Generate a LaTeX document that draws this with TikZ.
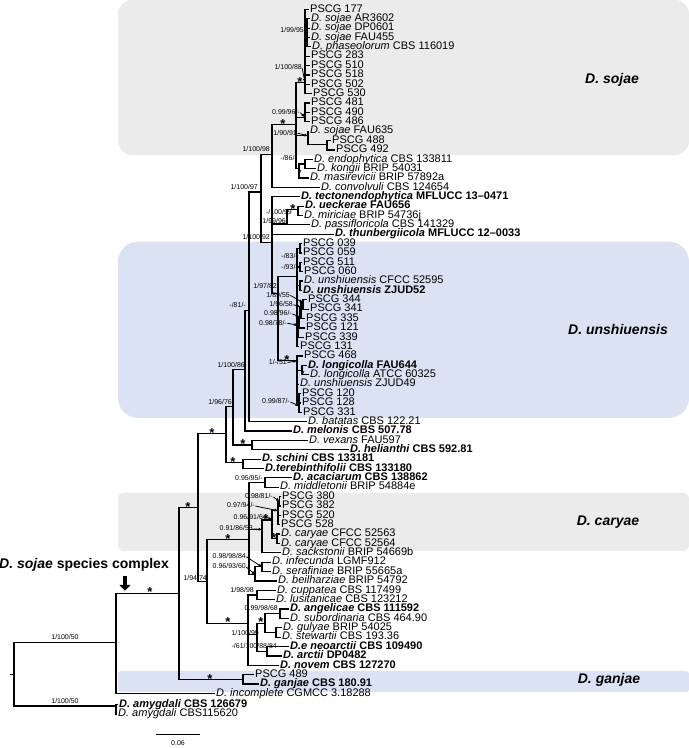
\documentclass[tikz,border=0pt]{standalone}
\usepackage{fontspec}
\setmainfont{Liberation Sans}
\usetikzlibrary{arrows.meta}
\definecolor{grybox}{RGB}{235,235,235}
\definecolor{blubox}{RGB}{218,226,243}
\tikzset{
  br/.style={line width=1.2pt},
  leaf/.style={anchor=west, inner xsep=1.5pt, inner ysep=0pt, text height=7pt, text depth=1.5pt, font=\fontsize{11}{11}\selectfont},
  bleaf/.style={leaf, font=\fontsize{11}{11}\selectfont\bfseries},
  bs/.style={anchor=east, inner sep=0pt, text height=4.6pt, text depth=0.6pt, font=\fontsize{7}{7}\selectfont},
  ptr/.style={-{Latex[length=3.5pt,width=3.2pt]}, line width=0.8pt, shorten <=0.5pt},
  ast/.style={anchor=south, inner sep=0pt, yshift=-4pt, font=\fontsize{13}{13}\selectfont\bfseries},
  clade/.style={font=\fontsize{14}{14}\selectfont\bfseries\itshape}
}
\begin{document}
\begin{tikzpicture}[x=1pt, y=-9.37pt]
    \useasboundingbox (0,0) rectangle (689,79.83);
    % clade boxes
    \fill[grybox, rounded corners=14pt] (118,0) rectangle (689,16.55);
    \fill[blubox, rounded corners=20pt] (118,25.8) rectangle (689,44.6);
    \fill[grybox, rounded corners=6pt] (118,52.6) rectangle (689,58.8);
    \fill[blubox, rounded corners=3pt] (118,71.6) rectangle (689,73.85);
    \node[clade] (csoj) at (612,8.5) {D. sojae};
    \node[clade] (cuns) at (618,35.2) {D. unshiuensis};
    \node[clade] (ccar) at (608,55.7) {D. caryae};
    \node[clade] (cgan) at (609,72.6) {D. ganjae};

    % leaves
    \node[leaf] (l1) at (308.5,1) {PSCG 177};
    \node[leaf] (l2) at (309.5,2) {\textit{D. sojae} AR3602};
    \node[leaf] (l3) at (309.5,3) {\textit{D. sojae} DP0601};
    \node[leaf] (l4) at (309.5,4) {\textit{D. sojae} FAU455};
    \node[leaf] (l5) at (310.5,5) {\textit{D. phaseolorum} CBS 116019};
    \node[leaf] (l6) at (309.5,6) {PSCG 283};
    \node[leaf] (l7) at (309.5,7) {PSCG 510};
    \node[leaf] (l8) at (309.5,8) {PSCG 518};
    \node[leaf] (l9) at (309.5,9) {PSCG 502};
    \node[leaf] (l10) at (311.5,10) {PSCG 530};
    \node[leaf] (l11) at (309.5,11) {PSCG 481};
    \node[leaf] (l12) at (309.5,12) {PSCG 490};
    \node[leaf] (l13) at (309.5,13) {PSCG 486};
    \node[leaf] (l14) at (308.5,14) {\textit{D. sojae} FAU635};
    \node[leaf] (l15) at (330.5,15) {PSCG 488};
    \node[leaf] (l16) at (334.5,16) {PSCG 492};
    \node[leaf] (l17) at (312.5,17) {\textit{D. endophytica} CBS 133811};
    \node[leaf] (l18) at (315.5,18) {\textit{D. kongii} BRIP 54031};
    \node[leaf] (l19) at (308.5,19) {\textit{D. masirevicii} BRIP 57892a};
    \node[leaf] (l20) at (319.5,20) {\textit{D. convolvuli} CBS 124654};
    \node[bleaf] (l21) at (299.5,21) {\textit{D. tectonendophytica} MFLUCC 13--0471};
    \node[bleaf] (l22) at (303.5,22) {\textit{D. ueckerae} FAU656};
    \node[leaf] (l23) at (302.5,23) {\textit{D. miriciae} BRIP 54736j};
    \node[leaf] (l24) at (309.5,24) {\textit{D. passifloricola} CBS 141329};
    \node[bleaf] (l25) at (333.5,25) {\textit{D. thunbergiicola} MFLUCC 12--0033};
    \node[leaf] (l26) at (301.5,26) {PSCG 039};
    \node[leaf] (l27) at (301.5,27) {PSCG 059};
    \node[leaf] (l28) at (301.5,28) {PSCG 511};
    \node[leaf] (l29) at (302.5,29) {PSCG 060};
    \node[leaf] (l30) at (302.5,30) {\textit{D. unshiuensis} CFCC 52595};
    \node[bleaf] (l31) at (301.5,31) {\textit{D. unshiuensis} ZJUD52};
    \node[leaf] (l32) at (306.5,32) {PSCG 344};
    \node[leaf] (l33) at (308.5,33) {PSCG 341};
    \node[leaf] (l34) at (304.5,34) {PSCG 335};
    \node[leaf] (l35) at (304.5,35) {PSCG 121};
    \node[leaf] (l36) at (303.5,36) {PSCG 339};
    \node[leaf] (l37) at (298.5,37) {PSCG 131};
    \node[leaf] (l38) at (302.5,38) {PSCG 468};
    \node[bleaf] (l39) at (306.5,39) {\textit{D. longicolla} FAU644};
    \node[leaf] (l40) at (308.5,40) {\textit{D. longicolla} ATCC 60325};
    \node[leaf] (l41) at (298.5,41) {\textit{D. unshiuensis} ZJUD49};
    \node[leaf] (l42) at (300.5,42) {PSCG 120};
    \node[leaf] (l43) at (300.5,43) {PSCG 128};
    \node[leaf] (l44) at (301.5,44) {PSCG 331};
    \node[leaf] (l45) at (306.5,45) {\textit{D. batatas} CBS 122.21};
    \node[bleaf] (l46) at (291.5,46) {\textit{D. melonis} CBS 507.78};
    \node[leaf] (l47) at (307.5,47) {\textit{D. vexans} FAU597};
    \node[bleaf] (l48) at (348.5,48) {\textit{D. helianthi} CBS 592.81};
    \node[bleaf] (l49) at (260.5,49) {\textit{D. schini} CBS 133181};
    \node[bleaf] (l50) at (263.5,50) {\textit{D.terebinthifolii} CBS 133180};
    \node[bleaf] (l51) at (291.5,51) {\textit{D. acaciarum} CBS 138862};
    \node[leaf] (l52) at (278.5,52) {\textit{D. middletonii} BRIP 54884e};
    \node[leaf] (l53) at (280.5,53) {PSCG 380};
    \node[leaf] (l54) at (280.5,54) {PSCG 382};
    \node[leaf] (l55) at (280.5,55) {PSCG 520};
    \node[leaf] (l56) at (279.5,56) {PSCG 528};
    \node[leaf] (l57) at (279.5,57) {\textit{D. caryae} CFCC 52563};
    \node[leaf] (l58) at (279.5,58) {\textit{D. caryae} CFCC 52564};
    \node[leaf] (l59) at (280.5,59) {\textit{D. sackstonii} BRIP 54669b};
    \node[leaf] (l60) at (270.5,60) {\textit{D. infecunda} LGMF912};
    \node[leaf] (l61) at (270.5,61) {\textit{D. serafiniae} BRIP 55665a};
    \node[leaf] (l62) at (276.5,62) {\textit{D. beilharziae} BRIP 54792};
    \node[leaf] (l63) at (275.5,63) {\textit{D. cuppatea} CBS 117499};
    \node[leaf] (l64) at (274.5,64) {\textit{D. lusitanicae} CBS 123212};
    \node[bleaf] (l65) at (288.5,65) {\textit{D. angelicae} CBS 111592};
    \node[leaf] (l66) at (288.5,66) {\textit{D. subordinaria} CBS 464.90};
    \node[leaf] (l67) at (281.5,67) {\textit{D. gulyae} BRIP 54025};
    \node[leaf] (l68) at (280.5,68) {\textit{D. stewartii} CBS 193.36};
    \node[bleaf] (l69) at (288.5,69) {\textit{D.e neoarctii} CBS 109490};
    \node[bleaf] (l70) at (281.5,70) {\textit{D. arctii} DP0482};
    \node[bleaf] (l71) at (278.5,71) {\textit{D. novem} CBS 127270};
    \node[leaf] (l72) at (253.5,72) {PSCG 489};
    \node[bleaf] (l73) at (258.5,73) {\textit{D. ganjae} CBS 180.91};
    \node[leaf] (l74) at (214.5,74) {\textit{D. incomplete} CGMCC 3.18288};
    \node[bleaf] (l75) at (117.5,75.2) {\textit{D. amygdali} CBS 126679};
    \node[leaf] (l76) at (116.5,76.2) {\textit{D. amygdali} CBS115620};

    % internal nodes
    \coordinate (rt) at (10,72);
    \coordinate (root) at (14,72);
    \coordinate (nA) at (116,68.6);
    \coordinate (nAm) at (116,75.35);
    \coordinate (nB) at (179,63.3);
    \coordinate (nGa) at (243,72.5);
    \coordinate (nC) at (198,54.2);
    \coordinate (nD) at (226,46.3);
    \coordinate (nG) at (243,49.4);
    \coordinate (nF) at (233,43.4);
    \coordinate (nI) at (252,47.5);
    \coordinate (nH) at (245,39.4);
    \coordinate (nJ) at (249,33.1);
    \coordinate (nL) at (261,20.5);
    \coordinate (nN) at (272,16.5);
    \coordinate (nM) at (272,25.9);
    \coordinate (nS1) at (296,13.3);
    \coordinate (nS2) at (305,8.8);
    \coordinate (nS2a) at (307,3.5);
    \coordinate (nS3) at (305,12.5);
    \coordinate (nS4) at (308,14.5);
    \coordinate (nS4a) at (327,15.4);
    \coordinate (nS5) at (299,18);
    \coordinate (nS5a) at (305,17.5);
    \coordinate (nT) at (287,23.9);
    \coordinate (nV) at (298,22.4);
    \coordinate (nX) at (278,31.3);
    \coordinate (nY) at (297,29.5);
    \coordinate (nY1) at (300,26.5);
    \coordinate (nY2) at (300,28.5);
    \coordinate (nY3) at (300,30.5);
    \coordinate (nY4) at (298,34.7);
    \coordinate (nY5) at (299.5,33.8);
    \coordinate (nY6) at (301,32.8);
    \coordinate (nY7) at (303,32.3);
    \coordinate (nZ) at (297,38.5);
    \coordinate (nZ1) at (302,39.5);
    \coordinate (nZ2) at (299,43.3);
    \coordinate (nE) at (207,62.1);
    \coordinate (nP) at (249,57.6);
    \coordinate (nAM) at (265,51.5);
    \coordinate (nCAR) at (262,56.5);
    \coordinate (nCAR1) at (272,55.5);
    \coordinate (nPS) at (278,54.5);
    \coordinate (nPS1) at (279.5,53.5);
    \coordinate (nCY) at (277,57.5);
    \coordinate (nINF) at (255,61.3);
    \coordinate (nINF1) at (262,60.5);
    \coordinate (nQ) at (248,66.5);
    \coordinate (nQ1) at (257,63.5);
    \coordinate (nR2) at (257,67.7);
    \coordinate (nR3) at (265,66.5);
    \coordinate (nA1) at (280,65.5);
    \coordinate (nG1) at (276,67.5);
    \coordinate (nR4) at (267,69.5);

    % branches
    \draw[br] (rt) -- (root);
    \foreach \p/\c in {root/nA, root/nAm, nAm/l75, nAm/l76, nA/nB, nA/l74,
        nB/nC, nB/nGa, nGa/l72, nGa/l73, nC/nD, nC/nE, nD/nF, nD/nG,
        nG/l49, nG/l50, nF/nH, nF/nI, nI/l47, nI/l48, nH/nJ, nH/l46,
        nJ/nL, nJ/l45, nL/nN, nL/nM, nN/nS1, nN/l20,
        nS1/nS2, nS1/nS3, nS1/nS4, nS1/nS5, nS2/l1, nS2/nS2a, nS2/l6, nS2/l7,
        nS2/l8, nS2/l9, nS2/l10, nS2a/l2, nS2a/l3, nS2a/l4, nS2a/l5,
        nS3/l11, nS3/l12, nS3/l13, nS4/l14, nS4/nS4a, nS4a/l15, nS4a/l16,
        nS5/nS5a, nS5/l19, nS5a/l17, nS5a/l18,
        nM/l21, nM/nT, nM/l25, nM/nX, nT/nV, nT/l24, nV/l22, nV/l23,
        nX/nY, nX/nZ, nY/nY1, nY/nY2, nY/nY3, nY/nY4, nY/l37,
        nY1/l26, nY1/l27, nY2/l28, nY2/l29, nY3/l30, nY3/l31,
        nY4/nY5, nY4/l36, nY5/nY6, nY5/l35, nY6/nY7, nY6/l34, nY7/l32, nY7/l33,
        nZ/l38, nZ/nZ1, nZ/l41, nZ/nZ2, nZ1/l39, nZ1/l40, nZ2/l42, nZ2/l43, nZ2/l44,
        nE/nP, nE/nQ, nP/nAM, nP/nCAR, nP/nINF, nAM/l51, nAM/l52,
        nCAR/nCAR1, nCAR/l59, nCAR1/nPS, nCAR1/nCY, nPS/nPS1, nPS/l55, nPS/l56,
        nPS1/l53, nPS1/l54, nCY/l57, nCY/l58, nINF/nINF1, nINF/l62,
        nINF1/l60, nINF1/l61, nQ/nQ1, nQ/nR2, nQ/l71, nQ1/l63, nQ1/l64,
        nR2/nR3, nR2/nR4, nR3/nA1, nR3/nG1, nA1/l65, nA1/l66,
        nG1/l67, nG1/l68, nR4/l69, nR4/l70}
      \draw[br] (\p) |- (\c);

    % stars
    \foreach \x/\y [count=\i] in {150/63.3, 188/54.2, 210/72.5, 212/46.3, 233/49.4,
        243/47.5, 228/57.6, 228/66.5, 283/13.3, 300/8.8, 293/22.4, 287/38.5,
        266/55.5, 274/57.5, 261/66.5}
      \node[ast] (st\i) at (\x,\y) {*};
    \node[ast, font=\fontsize{8}{8}\selectfont\bfseries, yshift=-3pt] (st16) at (300,18) {*};
    \node[ast, font=\fontsize{8}{8}\selectfont\bfseries, yshift=-3pt] (st17) at (303,39.5) {*};

    % support values
    \node[bs] (b1) at (304,3.3) {1/99/95};
    \node[bs] (b2) at (302,7.2) {1/100/88};
    \node[bs] (b3) at (300,12.0) {0.99/96/-};
    \node[bs] (b4) at (297,14.2) {1/90/91};
    \node[bs] (b5) at (270,16.0) {1/100/98};
    \node[bs] (b6) at (297,16.9) {-/86/-};
    \node[bs] (b7) at (258,20.0) {1/100/97};
    \node[bs] (b8) at (292,22.7) {-/100/99};
    \node[bs] (b9) at (286,23.6) {1/99/96};
    \node[bs] (b10) at (270,25.4) {1/100/92};
    \node[bs] (b11) at (298,27.4) {-/83/-};
    \node[bs] (b12) at (298,28.5) {-/93/-};
    \node[bs] (b13) at (277,30.6) {1/97/82};
    \node[bs] (b14) at (290,31.5) {1/89/55};
    \node[bs] (b15) at (293,32.5) {1/96/58};
    \node[bs] (b16) at (292,33.5) {0.98/96/-};
    \node[bs] (b17) at (287,34.5) {0.98/78/-};
    \node[bs] (b18) at (246,32.6) {-/81/-};
    \node[bs] (b19) at (287,38.7) {1/-/51};
    \node[bs] (b20) at (245,39.0) {1/100/86};
    \node[bs] (b21) at (290,42.9) {0.99/87/-};
    \node[bs] (b22) at (232,43.0) {1/96/76};
    \node[bs] (b23) at (263,51.1) {0.95/95/-};
    \node[bs] (b24) at (273,53.0) {0.98/81/-};
    \node[bs] (b25) at (255,54.0) {0.97/94/-};
    \node[bs] (b26) at (267,55.2) {0.96/91/64};
    \node[bs] (b27) at (253,56.45) {0.91/86/53};
    \node[bs] (b28) at (246,59.4) {0.98/98/84};
    \node[bs] (b29) at (246,60.5) {0.96/93/60};
    \node[bs] (b30) at (207,61.7) {1/94/74};
    \node[bs] (b31) at (254,63.0) {1/98/98};
    \node[bs] (b32) at (278,64.9) {0.99/98/68};
    \node[bs] (b33) at (259,67.6) {1/100/99};
    \node[bs] (b34) at (277,69.0) {-/61/100/88/84};
    \node[bs, anchor=center] (b35) at (65,68.0) {1/100/50};
    \node[bs, anchor=center] (b36) at (65,74.9) {1/100/50};

    % pointers
    \foreach \b/\t in {b2/nS2, b3/nS3, b4/nS4, b14/nY7, b15/nY6, b16/nY5, b17/nY4,
        b19/nZ, b21/nZ2, b24/nPS1, b25/nPS, b26/nCAR1, b27/nCAR, b28/nINF1, b29/nINF}
      \draw[ptr] (\b.east) -- (\t);

    % complex label and arrow
    \node[font=\fontsize{14}{14}\selectfont\bfseries] (cplx) at (84,60.3) {\textit{D. sojae} species complex};
    \coordinate (arT) at (125,61.5);
    \coordinate (arB) at (125,63.05);
    \draw[line width=4pt, -{Triangle[width=11pt,length=6pt]}] (arT) -- (arB);

    % scale bar
    \coordinate (sb1) at (156,78.35);
    \coordinate (sb2) at (200,78.35);
    \draw[line width=1pt] (sb1) -- (sb2);
    \node[font=\fontsize{7}{7}\selectfont] (sbl) at (178,79.3) {0.06};
\end{tikzpicture}
\end{document}
